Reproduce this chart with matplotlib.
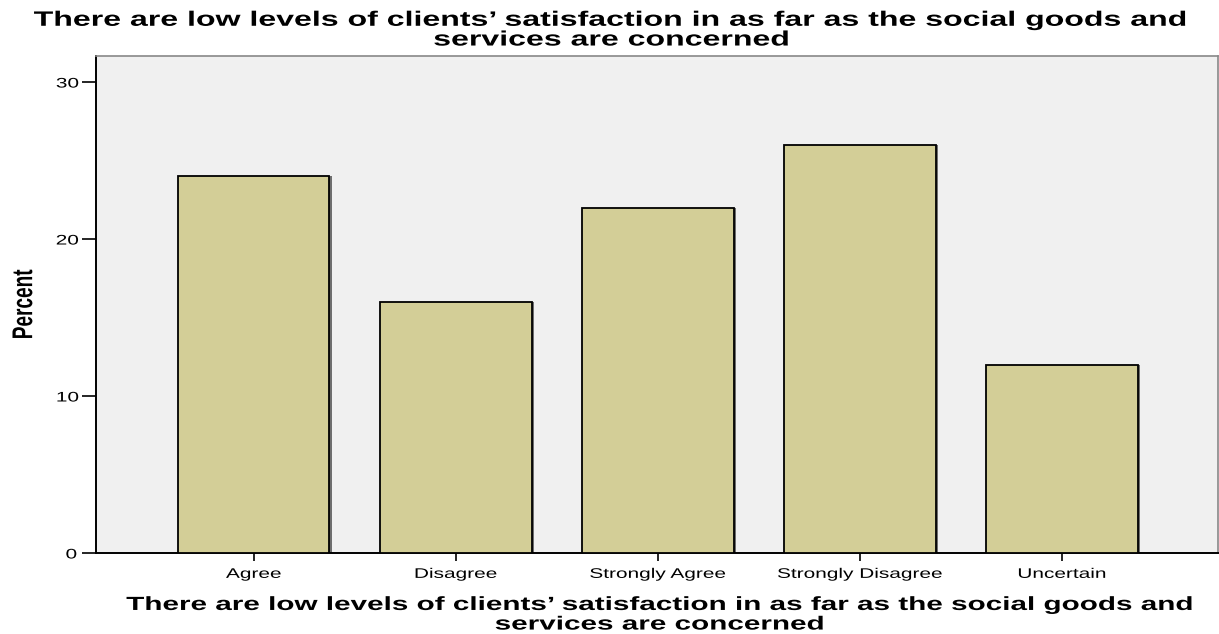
import numpy as np
import matplotlib.pyplot as plt
from matplotlib.patches import Rectangle
from matplotlib.patheffects import AbstractPathEffect
from matplotlib.transforms import Affine2D

categories = ['Agree', 'Disagree', 'Strongly Agree', 'Strongly Disagree', 'Uncertain']
percent = [24, 16, 22, 26, 12]
yticks = [0, 10, 20, 30]

question = ("There are low levels of clients\u2019 satisfaction in as far as the social goods and\n"
            "services are concerned")


class HStretch(AbstractPathEffect):
    """Widen glyphs horizontally about the centre of each drawn text line."""
    def __init__(self, sx=1.5):
        super().__init__()
        self.sx = sx

    def draw_path(self, renderer, gc, tpath, affine, rgbFace=None):
        ext = tpath.get_extents(affine)
        cx = (ext.x0 + ext.x1) / 2
        t = affine + Affine2D().translate(-cx, 0).scale(self.sx, 1).translate(cx, 0)
        renderer.draw_path(gc, tpath, t, rgbFace)


plt.rcParams['font.family'] = ['Liberation Sans', 'DejaVu Sans']

fig = plt.figure(figsize=(12.19, 6.34), dpi=100)
ax = fig.add_axes([0.0788, 0.1278, 0.9202, 0.7839])
ax.set_facecolor('#F0F0F0')

x = np.arange(len(categories))
w = 0.75
# grey drop shadow on the right of each bar
for xi, v in zip(x, percent):
    ax.add_patch(Rectangle((xi - w/2 + 0.012, 0), w, v, facecolor='#6E6E6E',
                           edgecolor='none', zorder=2))
ax.bar(x, percent, width=w, color='#D3CE97', edgecolor='black', linewidth=1.3, zorder=3)

ax.set_xlim(-0.78, 4.77)
ax.set_ylim(0, 31.66)
ax.set_xticks(x)
ax.set_xticklabels(categories, fontsize=10)
ax.set_yticks(yticks)
ax.tick_params(axis='y', length=10, width=1.2, labelsize=10, pad=5)
ax.tick_params(axis='x', length=6, width=1.2, pad=4)
for lab in ax.get_xticklabels() + ax.get_yticklabels():
    lab.set_path_effects([HStretch(1.5)])

for s in ['left', 'bottom']:
    ax.spines[s].set_color('black')
    ax.spines[s].set_linewidth(1.4)
for s in ['top', 'right']:
    ax.spines[s].set_color('#888888')
    ax.spines[s].set_linewidth(1.2)

ylab = ax.set_ylabel('Percent', fontsize=13.7, fontweight='bold')
ax.yaxis.set_label_coords(-0.0563, 0.5)
ylab.set_path_effects([HStretch(1.5)])

xlab = ax.set_xlabel(question, fontsize=13.7, fontweight='bold', linespacing=1.2)
ax.xaxis.set_label_coords(0.502, -0.0885)
xlab.set_path_effects([HStretch(1.56)])

title = fig.text(0.502, 0.983, question, ha='center', va='top', fontsize=15,
                 fontweight='bold', linespacing=1.05)
title.set_path_effects([HStretch(1.54)])

fig.savefig('out.png', dpi=100)
